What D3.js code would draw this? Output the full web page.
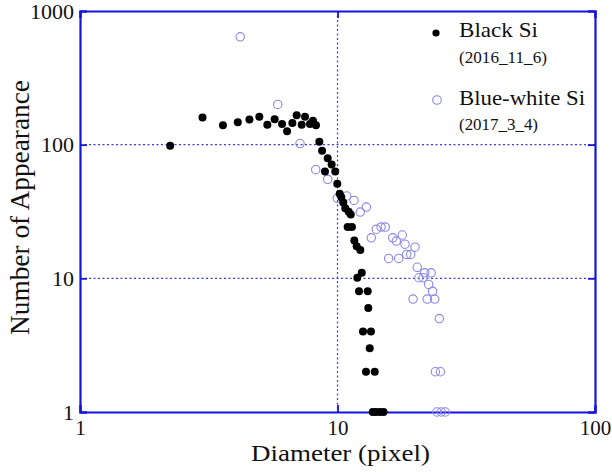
<!DOCTYPE html>
<html>
<head>
<meta charset="utf-8">
<script src="https://cdn.jsdelivr.net/npm/d3@7"></script>
<style>
  body { margin: 0; background: #fff; }
  svg { display: block; font-family: "Liberation Serif", "Times New Roman", serif; }
</style>
</head>
<body>
<svg width="612" height="472"></svg>
<script>
// black Si (2016_11_6): diameter, count
const blackX = [2.24, 2.99, 3.59, 4.10, 4.55, 4.97, 5.34, 5.70, 6.09, 6.37, 6.68, 6.94, 7.26, 7.48, 7.82, 8.03, 8.25,
  8.50, 8.71, 9.16, 9.49, 8.94, 9.80, 9.98, 10.2, 10.35, 10.53, 10.72, 11.05, 11.26, 10.95, 11.38, 11.62, 11.87, 12.26,
  12.42, 11.94, 12.12, 13.1, 13.17, 12.56, 13.49, 13.34, 12.9, 13.95, 13.7, 14.1, 14.6, 15.1];
const blackY = [98, 160, 140, 147, 154, 162, 141, 155, 143, 126, 145, 166, 141, 162, 143, 151, 140,
  105, 90, 79, 71, 63, 63, 51, 43, 40.5, 37, 33.4, 31.5, 30, 24.2, 24.2, 19.2, 17.4, 16.3,
  11, 10.1, 8, 8, 6, 4, 4, 3, 2, 2, 1, 1, 1, 1];

// blue-white Si (2017_3_4)
const blueX = [4.19, 5.86, 7.15, 8.23, 9.16, 9.98, 10.86, 11.59, 12.26, 12.94, 13.53, 14.15, 14.76, 15.33, 16.39, 16.92,
  17.85, 18.29, 20.0, 15.8, 17.29, 18.57, 19.24, 20.4, 21.8, 23.1, 20.7, 21.5, 22.6, 23.4, 19.65, 22.3, 23.85, 24.85,
  24.0, 25.1, 24.3, 25.3, 26.2];
const blueY = [641, 200, 102, 65, 55, 39.7, 41.3, 38.3, 31.3, 34.1, 20.1, 23.3, 24.2, 24.2, 20.1, 19,
  21.1, 18, 17.1, 14.1, 14.1, 15.1, 15.1, 12.1, 11, 11, 10.1, 10.1, 9, 8, 7, 7, 7, 5,
  2, 2, 1, 1, 1];

const xTicks = [1, 10, 100];
const yTicks = [1, 10, 100, 1000];

const svg = d3.select("svg");
const pLeft = 80, pRight = 595, pTop = 11, pBottom = 412;
const frame = "#1414dc";
const grid = "#3a3aee";
const blueEdge = "#8a86e6";

const x = d3.scaleLog().domain([1, 100]).range([pLeft, pRight]);
const y = d3.scaleLog().domain([1, 1000]).range([pBottom, pTop]);

// dotted grid at inner decades
svg.append("g").selectAll("line")
  .data(xTicks.slice(1, -1)).enter().append("line")
  .attr("x1", d => x(d)).attr("x2", d => x(d))
  .attr("y1", pTop).attr("y2", pBottom)
  .attr("stroke", grid).attr("stroke-width", 1.2).attr("stroke-dasharray", "2,2.5");
svg.append("g").selectAll("line")
  .data(yTicks.slice(1, -1)).enter().append("line")
  .attr("x1", pLeft).attr("x2", pRight)
  .attr("y1", d => y(d)).attr("y2", d => y(d))
  .attr("stroke", grid).attr("stroke-width", 1.2).attr("stroke-dasharray", "2,2.5");

// axes, ticks inside
const xAxis = d3.axisBottom(x).tickValues(xTicks).tickSize(-7).tickPadding(8).tickFormat(d3.format("d"));
const yAxis = d3.axisLeft(y).tickValues(yTicks).tickSize(-7).tickPadding(6).tickFormat(d3.format("d"));

const gx = svg.append("g").attr("transform", "translate(0," + pBottom + ")").call(xAxis);
const gy = svg.append("g").attr("transform", "translate(" + pLeft + ",0)").call(yAxis);
svg.append("g").attr("transform", "translate(0," + pTop + ")")
  .call(d3.axisTop(x).tickValues(xTicks).tickSize(-7).tickFormat(""));
svg.append("g").attr("transform", "translate(" + pRight + ",0)")
  .call(d3.axisRight(y).tickValues(yTicks).tickSize(-7).tickFormat(""));

svg.selectAll(".domain").attr("stroke", frame).attr("stroke-width", 2.2);
svg.selectAll(".tick line").attr("stroke", frame).attr("stroke-width", 1.8);
svg.selectAll(".tick text").attr("fill", "#111")
  .attr("font-family", "Liberation Serif, serif")
  .style("font-family", "'Liberation Serif', serif").style("font-size", "22px");
gy.selectAll(".tick text").attr("dy", "0.33em");
gx.selectAll(".tick text").style("font-size", "21px");

// points
svg.append("g").selectAll("circle")
  .data(blueX).enter().append("circle")
  .attr("cx", (d, i) => x(d)).attr("cy", (d, i) => y(blueY[i]))
  .attr("r", 4.2).attr("fill", "none").attr("stroke", blueEdge).attr("stroke-width", 1.1);

svg.append("g").selectAll("circle")
  .data(blackX).enter().append("circle")
  .attr("cx", (d, i) => x(d)).attr("cy", (d, i) => y(blackY[i]))
  .attr("r", 4).attr("fill", "#000");

// legend
const lg = svg.append("g").attr("fill", "#111");
lg.append("circle").attr("cx", 436).attr("cy", 33).attr("r", 3.6).attr("fill", "#000");
lg.append("text").attr("x", 459).attr("y", 37).style("font-size", "21px")
  .attr("textLength", 79).attr("lengthAdjust", "spacingAndGlyphs").text("Black Si");
lg.append("text").attr("x", 459).attr("y", 63).style("font-size", "17px")
  .attr("textLength", 88).attr("lengthAdjust", "spacingAndGlyphs").text("(2016_11_6)");
lg.append("circle").attr("cx", 437).attr("cy", 100).attr("r", 4.3).attr("fill", "none")
  .attr("stroke", blueEdge).attr("stroke-width", 1.1);
lg.append("text").attr("x", 459).attr("y", 104.5).style("font-size", "21px")
  .attr("textLength", 126).attr("lengthAdjust", "spacingAndGlyphs").text("Blue-white Si");
lg.append("text").attr("x", 459).attr("y", 129.5).style("font-size", "17px")
  .attr("textLength", 79).attr("lengthAdjust", "spacingAndGlyphs").text("(2017_3_4)");

// axis titles
svg.append("text").attr("x", 251).attr("y", 461).attr("fill", "#111")
  .style("font-size", "23px").attr("textLength", 179).attr("lengthAdjust", "spacingAndGlyphs")
  .text("Diameter (pixel)");
svg.append("text").attr("transform", "translate(29,207.5) rotate(-90)").attr("fill", "#111")
  .attr("text-anchor", "middle").style("font-size", "27px")
  .attr("textLength", 255).attr("lengthAdjust", "spacingAndGlyphs").text("Number of Appearance");
</script>
</body>
</html>
